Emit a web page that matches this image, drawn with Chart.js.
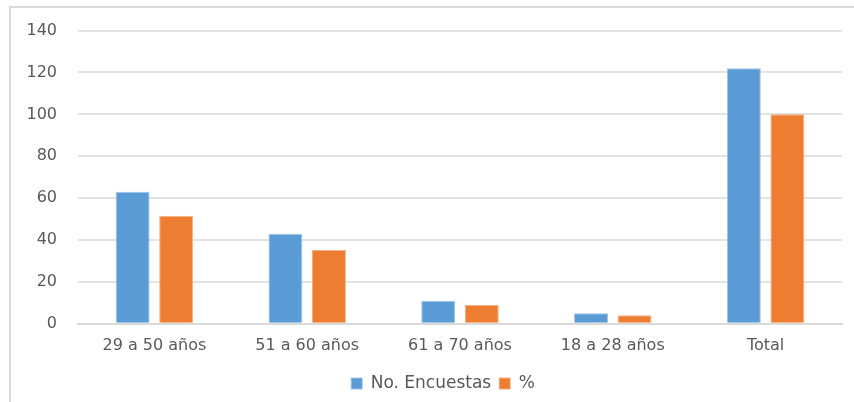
<!DOCTYPE html>
<html>
<head>
<meta charset="utf-8">
<script src="https://cdn.jsdelivr.net/npm/chart.js@4/dist/chart.umd.min.js"></script>
<style>
  html, body { margin: 0; padding: 0; background: #ffffff; }
  #wrap { position: relative; width: 854px; height: 402px; }
  #frame { position: absolute; left: 9px; top: 6px; right: 0; bottom: 0;
           border-left: 2px solid #d9d9d9; border-top: 2px solid #d9d9d9; pointer-events: none; }
  canvas { position: absolute; left: 0; top: 0; }
</style>
</head>
<body>
<div id="wrap">
  <canvas id="c" width="854" height="402"></canvas>
  <div id="frame"></div>
</div>
<script>
const categories = ["29 a 50 años", "51 a 60 años", "61 a 70 años", "18 a 28 años", "Total"];
const encuestas = [63, 43, 11, 5, 122];
const porcentaje = [51.6, 35.2, 9.0, 4.1, 100];
const seriesNames = ["No. Encuestas", "%"];
const yTicks = [0, 20, 40, 60, 80, 100, 120, 140];

const FONT = "'DejaVu Sans', 'Liberation Sans', sans-serif";
const TXT = '#595959';

const shiftLegend = {
  id: 'shiftLegend',
  afterLayout(chart) {
    if (chart.legend) { chart.legend.left += 22; chart.legend.right += 22; }
  }
};

new Chart(document.getElementById('c'), {
  type: 'bar',
  data: {
    labels: categories,
    datasets: [
      { label: seriesNames[0], data: encuestas, backgroundColor: '#5B9BD5', borderColor: '#9DC3E6', borderWidth: 1,
        categoryPercentage: 0.57, barPercentage: 0.78 },
      { label: seriesNames[1], data: porcentaje, backgroundColor: '#ED7D31', borderColor: '#F4B183', borderWidth: 1,
        categoryPercentage: 0.57, barPercentage: 0.78 }
    ]
  },
  plugins: [shiftLegend],
  options: {
    responsive: false,
    animation: false,
    devicePixelRatio: 1,
    layout: { padding: { left: 0, right: 12, top: 12, bottom: 0 } },
    plugins: {
      legend: {
        position: 'bottom',
        labels: { boxWidth: 11, boxHeight: 11, color: TXT, font: { family: FONT, size: 17 }, padding: 8 }
      },
      tooltip: { enabled: false }
    },
    scales: {
      x: {
        grid: { display: false, drawTicks: false },
        border: { display: true, color: '#d9d9d9', width: 2 },
        ticks: { color: TXT, font: { family: FONT, size: 16 }, padding: 12 }
      },
      y: {
        min: 0, max: 140,
        afterBuildTicks: (s) => { s.ticks = yTicks.map(v => ({ value: v })); },
        afterFit: (s) => { s.width = 78; },
        grid: { color: '#e2e2e2', lineWidth: 2, drawTicks: false },
        border: { display: false },
        ticks: { color: TXT, font: { family: FONT, size: 16 }, padding: 21 }
      }
    }
  }
});
</script>
</body>
</html>
